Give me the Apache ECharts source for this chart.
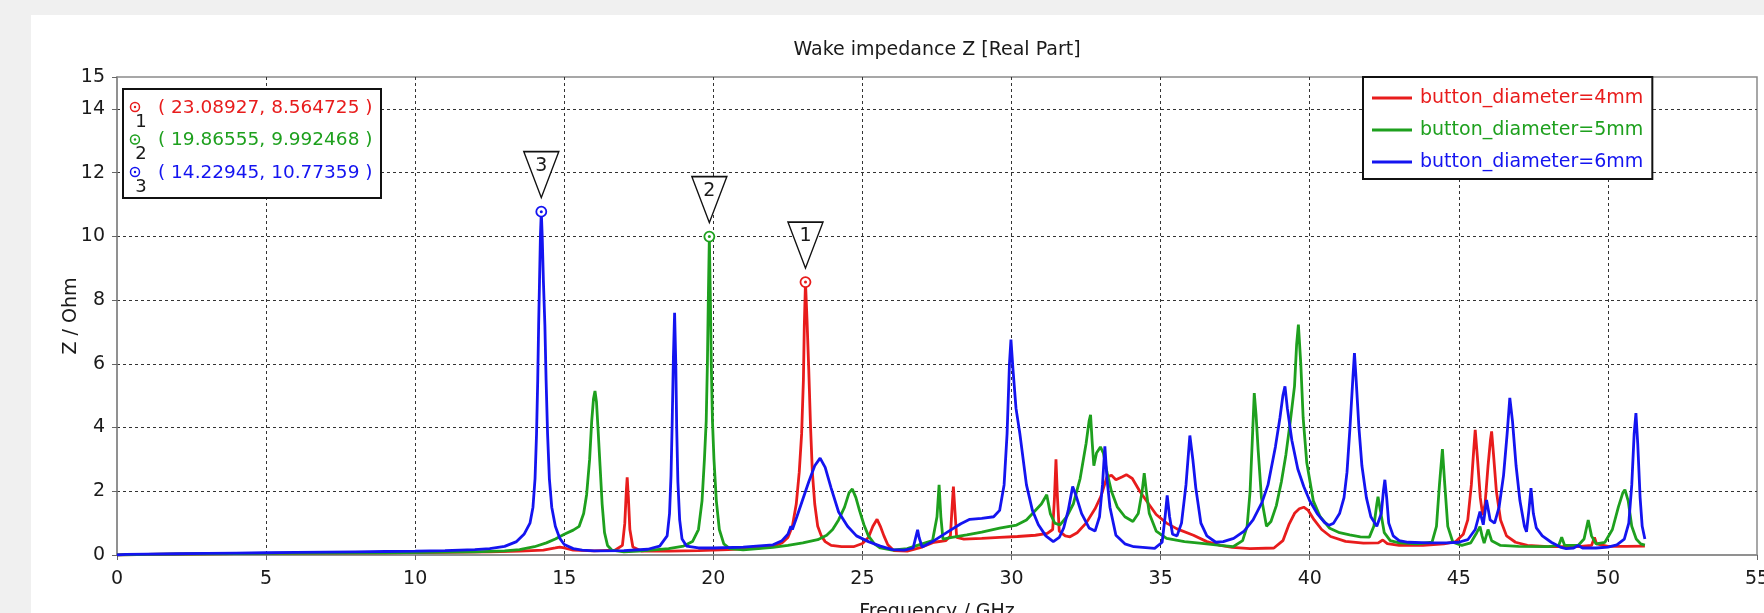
<!DOCTYPE html>
<html>
<head>
<meta charset="utf-8">
<script src="https://cdn.jsdelivr.net/npm/echarts@6/dist/echarts.min.js"></script>
<style>
  html, body { margin: 0; padding: 0; background: #f0f0f0; }
  #panel { position: absolute; left: 31px; top: 15px; right: 0; bottom: 0; background: #ffffff; }
  #chart { position: absolute; left: 0; top: 0; width: 1764px; height: 613px; }
</style>
</head>
<body>
<div id="panel"></div>
<div id="chart"></div>
<script>
// ---------- data ----------
const chartTitle = 'Wake impedance Z [Real Part]';
const xAxisName = 'Frequency / GHz';
const yAxisName = 'Z / Ohm';
const seriesNames = ['button_diameter=4mm', 'button_diameter=5mm', 'button_diameter=6mm'];
const seriesColors = ['#e81c1c', '#1ea01e', '#1414f0'];

const xTicks = [0, 5, 10, 15, 20, 25, 30, 35, 40, 45, 50, 55];
const yTicks = [0, 2, 4, 6, 8, 10, 12, 14, 15];

// markers: index, frequency (GHz), Z (Ohm), series index
const markerIds = ['1', '2', '3'];
const markerFreq = [23.08927, 19.86555, 14.22945];
const markerZ = [8.564725, 9.992468, 10.77359];
const markerSeries = [0, 1, 2];

// button_diameter=4mm  [GHz, Ohm]
const red4mm = [[0,0.0],[1,0.02],[3,0.04],[5,0.05],[7,0.06],[9,0.07],[11,0.08],[12.5,0.1],[13.5,0.12],[14.3,0.15],[14.7,0.22],[14.85,0.25],[15.0,0.22],[15.3,0.15],[16,0.13],[16.7,0.15],[16.95,0.3],[17.03,1.0],[17.08,2.0],[17.11,2.44],[17.15,1.8],[17.2,0.8],[17.3,0.25],[17.6,0.12],[18.5,0.12],[19.5,0.14],[20.5,0.17],[21.5,0.22],[22.0,0.28],[22.3,0.38],[22.5,0.55],[22.65,0.9],[22.78,1.6],[22.88,2.6],[22.96,3.8],[23.02,5.5],[23.05,7.2],[23.08927,8.564725],[23.14,7.4],[23.2,5.8],[23.26,4.0],[23.32,2.6],[23.4,1.6],[23.5,0.9],[23.62,0.6],[23.75,0.42],[23.95,0.3],[24.3,0.26],[24.7,0.26],[25.0,0.36],[25.2,0.55],[25.35,0.9],[25.49,1.12],[25.6,0.9],[25.72,0.6],[25.85,0.32],[26.05,0.14],[26.5,0.12],[27.0,0.25],[27.4,0.4],[27.8,0.45],[27.95,0.6],[28.0,1.4],[28.05,2.15],[28.1,1.4],[28.16,0.55],[28.4,0.5],[29.0,0.52],[29.6,0.55],[30.2,0.58],[30.8,0.62],[31.2,0.68],[31.38,0.8],[31.44,1.8],[31.49,3.0],[31.54,1.8],[31.6,0.75],[31.8,0.6],[31.96,0.57],[32.2,0.7],[32.5,1.0],[32.8,1.45],[33.0,1.85],[33.2,2.45],[33.35,2.5],[33.5,2.36],[33.7,2.45],[33.85,2.52],[34.05,2.4],[34.3,2.0],[34.6,1.6],[34.85,1.27],[35.2,1.0],[35.55,0.82],[36.1,0.62],[36.55,0.42],[37.0,0.3],[37.4,0.24],[38.0,0.2],[38.8,0.22],[39.1,0.45],[39.3,0.95],[39.5,1.32],[39.65,1.45],[39.8,1.5],[39.95,1.4],[40.15,1.1],[40.4,0.8],[40.7,0.58],[41.2,0.43],[41.8,0.37],[42.3,0.38],[42.45,0.47],[42.6,0.36],[43.0,0.3],[43.8,0.3],[44.5,0.35],[44.9,0.42],[45.15,0.65],[45.3,1.1],[45.42,2.2],[45.5,3.3],[45.55,3.93],[45.62,3.1],[45.72,1.8],[45.8,1.25],[45.88,1.6],[45.98,2.8],[46.06,3.6],[46.1,3.88],[46.16,3.2],[46.26,2.0],[46.4,1.1],[46.6,0.6],[46.9,0.4],[47.3,0.3],[48.0,0.26],[49.0,0.26],[49.45,0.3],[49.55,0.55],[49.62,0.35],[50.0,0.27],[50.6,0.27],[51.24,0.28]];

// button_diameter=5mm
const green5mm = [[0,0.0],[1,0.02],[3,0.04],[5,0.05],[7,0.06],[9,0.07],[11,0.09],[12,0.1],[13,0.13],[13.5,0.17],[14.0,0.26],[14.4,0.38],[14.7,0.5],[15.0,0.65],[15.3,0.78],[15.5,0.9],[15.65,1.3],[15.75,1.9],[15.85,3.0],[15.92,4.2],[15.98,4.9],[16.03,5.15],[16.08,4.8],[16.13,4.0],[16.2,2.8],[16.27,1.6],[16.35,0.7],[16.45,0.3],[16.6,0.15],[17,0.1],[17.5,0.12],[18,0.16],[18.5,0.2],[19.0,0.28],[19.3,0.42],[19.5,0.8],[19.62,1.7],[19.7,3.0],[19.76,4.2],[19.8,6.0],[19.83,8.0],[19.86555,9.992468],[19.9,8.0],[19.93,6.0],[19.97,4.2],[20.02,3.0],[20.1,1.7],[20.2,0.8],[20.35,0.35],[20.55,0.2],[21.0,0.16],[21.5,0.2],[22.0,0.24],[22.5,0.3],[23.0,0.38],[23.5,0.48],[23.8,0.62],[24.0,0.8],[24.2,1.1],[24.4,1.5],[24.55,1.95],[24.66,2.07],[24.78,1.8],[24.9,1.4],[25.05,0.95],[25.2,0.6],[25.4,0.35],[25.6,0.22],[26.0,0.15],[26.5,0.2],[27.0,0.35],[27.35,0.45],[27.5,1.2],[27.57,2.2],[27.63,1.2],[27.7,0.5],[28.0,0.55],[28.5,0.63],[29.0,0.72],[29.6,0.84],[30.17,0.94],[30.5,1.1],[30.75,1.35],[31.0,1.6],[31.18,1.89],[31.3,1.3],[31.45,1.0],[31.62,0.94],[31.85,1.2],[32.07,1.6],[32.3,2.4],[32.5,3.5],[32.6,4.2],[32.65,4.4],[32.7,3.6],[32.76,2.8],[32.85,3.2],[32.98,3.39],[33.08,3.2],[33.2,2.6],[33.35,2.0],[33.55,1.5],[33.8,1.2],[34.07,1.05],[34.25,1.3],[34.38,2.0],[34.45,2.57],[34.52,2.0],[34.62,1.3],[34.85,0.75],[35.2,0.52],[35.8,0.42],[36.3,0.37],[37.0,0.3],[37.43,0.26],[37.75,0.45],[37.9,0.9],[38.0,2.0],[38.07,3.5],[38.14,5.08],[38.2,4.4],[38.27,3.3],[38.38,1.8],[38.55,0.9],[38.7,1.05],[38.88,1.55],[39.05,2.3],[39.2,3.14],[39.35,4.2],[39.49,5.3],[39.56,6.6],[39.62,7.23],[39.7,6.0],[39.78,4.3],[39.9,2.9],[40.12,1.7],[40.35,1.2],[40.67,0.84],[41.0,0.7],[41.34,0.63],[41.7,0.57],[42.0,0.56],[42.15,0.9],[42.25,1.6],[42.29,1.83],[42.37,1.4],[42.5,0.7],[42.7,0.45],[43.0,0.38],[43.6,0.35],[44.1,0.4],[44.25,0.9],[44.35,2.2],[44.45,3.32],[44.53,2.2],[44.63,0.9],[44.8,0.4],[45.1,0.3],[45.4,0.38],[45.6,0.7],[45.71,0.89],[45.78,0.6],[45.85,0.37],[45.92,0.6],[45.98,0.8],[46.1,0.45],[46.4,0.3],[47.0,0.27],[48.0,0.26],[48.35,0.3],[48.45,0.56],[48.55,0.3],[49.0,0.3],[49.2,0.5],[49.34,1.1],[49.45,0.6],[49.6,0.35],[49.9,0.4],[50.15,0.8],[50.35,1.5],[50.5,1.95],[50.57,2.05],[50.68,1.7],[50.8,0.9],[50.95,0.5],[51.1,0.35],[51.24,0.31]];

// button_diameter=6mm
const blue6mm = [[0,0.0],[0.3,0.02],[1,0.03],[2,0.04],[3,0.05],[4,0.06],[5,0.07],[6,0.08],[7,0.09],[8,0.1],[9,0.11],[10,0.12],[11,0.14],[12,0.17],[12.5,0.2],[13,0.27],[13.4,0.42],[13.65,0.65],[13.85,1.0],[13.95,1.5],[14.02,2.4],[14.07,3.8],[14.11,5.5],[14.14,7.2],[14.17,8.6],[14.2,10.0],[14.22945,10.77359],[14.26,10.0],[14.3,8.6],[14.35,7.2],[14.39,5.5],[14.44,3.8],[14.5,2.4],[14.58,1.5],[14.7,0.9],[14.85,0.52],[15.0,0.33],[15.3,0.2],[15.6,0.15],[16,0.13],[17,0.14],[17.8,0.18],[18.2,0.28],[18.45,0.6],[18.53,1.3],[18.58,2.5],[18.62,4.2],[18.66,6.2],[18.7,7.6],[18.74,6.0],[18.77,4.0],[18.81,2.3],[18.87,1.1],[18.95,0.5],[19.1,0.28],[19.5,0.22],[20,0.22],[21,0.25],[22,0.32],[22.3,0.45],[22.5,0.65],[22.6,0.9],[22.65,0.8],[22.8,1.2],[23.0,1.75],[23.2,2.3],[23.4,2.8],[23.58,3.04],[23.75,2.75],[23.95,2.1],[24.2,1.35],[24.5,0.9],[24.8,0.6],[25.2,0.42],[25.6,0.28],[26.0,0.17],[26.4,0.15],[26.7,0.22],[26.8,0.6],[26.85,0.79],[26.9,0.55],[27.0,0.25],[27.4,0.45],[27.9,0.75],[28.3,0.98],[28.6,1.12],[29.0,1.15],[29.4,1.2],[29.6,1.4],[29.75,2.2],[29.85,3.8],[29.93,6.0],[29.98,6.76],[30.05,5.8],[30.15,4.6],[30.28,3.8],[30.5,2.2],[30.7,1.4],[30.9,0.95],[31.15,0.6],[31.4,0.42],[31.6,0.55],[31.75,0.85],[31.9,1.4],[32.05,2.15],[32.15,1.9],[32.35,1.3],[32.6,0.85],[32.8,0.75],[32.95,1.2],[33.05,2.2],[33.13,3.41],[33.2,2.4],[33.3,1.5],[33.5,0.62],[33.8,0.35],[34.1,0.26],[34.8,0.21],[35.05,0.4],[35.15,1.2],[35.22,1.87],[35.3,1.2],[35.4,0.65],[35.55,0.6],[35.7,1.0],[35.85,2.2],[35.98,3.75],[36.08,3.0],[36.18,2.1],[36.35,1.0],[36.55,0.6],[36.85,0.4],[37.1,0.42],[37.45,0.52],[37.8,0.75],[38.1,1.1],[38.4,1.65],[38.6,2.2],[38.85,3.4],[39.0,4.3],[39.1,5.0],[39.17,5.29],[39.25,4.6],[39.4,3.6],[39.6,2.7],[39.8,2.15],[40.0,1.7],[40.25,1.3],[40.5,1.02],[40.65,0.93],[40.8,1.0],[41.0,1.3],[41.15,1.8],[41.25,2.6],[41.35,4.0],[41.45,5.6],[41.5,6.34],[41.55,5.6],[41.65,4.0],[41.75,2.8],[41.9,1.8],[42.05,1.2],[42.25,0.9],[42.4,1.3],[42.47,2.0],[42.52,2.36],[42.58,1.8],[42.65,1.0],[42.8,0.6],[43.0,0.45],[43.3,0.4],[44,0.38],[44.6,0.38],[45.0,0.4],[45.3,0.48],[45.55,0.8],[45.71,1.36],[45.82,0.95],[45.93,1.73],[46.05,1.1],[46.2,1.0],[46.35,1.5],[46.5,2.5],[46.62,3.8],[46.71,4.93],[46.8,4.2],[46.92,2.8],[47.05,1.7],[47.2,0.9],[47.27,0.73],[47.35,1.4],[47.42,2.1],[47.5,1.3],[47.6,0.85],[47.8,0.6],[48.1,0.4],[48.4,0.25],[48.6,0.2],[48.85,0.22],[49.0,0.3],[49.15,0.22],[49.6,0.22],[50.0,0.25],[50.3,0.32],[50.55,0.5],[50.7,1.0],[50.8,2.2],[50.88,3.8],[50.94,4.45],[51.0,3.5],[51.08,1.8],[51.15,0.9],[51.24,0.5]];

const seriesData = [red4mm, green5mm, blue6mm];

// ---------- chart ----------
const FONT = '"DejaVu Sans", Verdana, sans-serif';
const TXT = '#1a1a1a';
const chart = echarts.init(document.getElementById('chart'), null, { renderer: 'canvas', width: 1764, height: 613 });

const GRID = { left: 117, top: 77, right: 7, bottom: 58 };

function markPointsFor(si) {
  const data = [];
  markerIds.forEach((id, k) => {
    if (markerSeries[k] !== si) return;
    const c = [markerFreq[k], markerZ[k]];
    data.push({
      coord: c,
      symbol: 'path://M0,0 L35,0 L17.5,46 Z',
      symbolSize: [35, 46],
      symbolOffset: [0, -37],
      itemStyle: { color: '#ffffff', borderColor: '#111111', borderWidth: 1.5 },
      label: { show: true, formatter: id, position: 'inside', offset: [0, -9],
               color: TXT, fontFamily: FONT, fontSize: 19 }
    });
    data.push({
      coord: c, symbol: 'circle', symbolSize: 10,
      itemStyle: { color: '#ffffff', borderColor: seriesColors[si], borderWidth: 1.8 },
      label: { show: false }
    });
    data.push({
      coord: c, symbol: 'circle', symbolSize: 3,
      itemStyle: { color: seriesColors[si] },
      label: { show: false }
    });
  });
  return { silent: true, animation: false, data };
}

const series = seriesData.map((d, i) => ({
  name: seriesNames[i],
  type: 'line',
  data: d,
  showSymbol: false,
  symbol: 'none',
  smooth: false,
  clip: true,
  color: seriesColors[i],
  lineStyle: { width: 2.8, color: seriesColors[i] },
  z: 2 + i,
  markPoint: markPointsFor(i)
}));

// marker read-out box (top-left)
const boxX = 123, boxY = 89, rowH = 32.5;
const ZB = 100;
const boxChildren = [{
  type: 'rect', z: ZB, shape: { x: 0, y: 0, width: 258, height: 109 },
  style: { fill: '#ffffff', stroke: '#111111', lineWidth: 2 }
}];
markerIds.forEach((id, k) => {
  const col = seriesColors[markerSeries[k]];
  const cy = 19 + rowH * k;
  boxChildren.push({ type: 'circle', z: ZB + 1, shape: { cx: 12, cy: cy - 1, r: 4.5 },
    style: { fill: '#ffffff', stroke: col, lineWidth: 1.5 } });
  boxChildren.push({ type: 'circle', z: ZB + 2, shape: { cx: 12, cy: cy - 1, r: 1.2 },
    style: { fill: col } });
  boxChildren.push({ type: 'text', z: ZB + 1, x: 18, y: cy + 14,
    style: { text: id, fill: TXT, font: '18px ' + FONT, align: 'center', verticalAlign: 'middle' } });
  boxChildren.push({ type: 'text', z: ZB + 1, x: 35, y: cy,
    style: { text: '( ' + markerFreq[k] + ', ' + markerZ[k] + ' )', fill: col,
             font: '18.5px ' + FONT, align: 'left', verticalAlign: 'middle' } });
});

const option = {
  animation: false,
  backgroundColor: 'transparent',
  textStyle: { fontFamily: FONT },
  grid: { left: GRID.left, top: GRID.top, right: GRID.right, bottom: GRID.bottom,
          containLabel: false, outerBoundsMode: 'none',
          show: true, borderColor: '#8a8a8a', borderWidth: 1.5, backgroundColor: '#ffffff' },
  legend: {
    orient: 'vertical', left: 1363, top: 77,
    padding: [10, 9, 6, 9], itemGap: 10, itemWidth: 40, itemHeight: 3,
    icon: 'rect', selectedMode: false,
    borderColor: '#111111', borderWidth: 2, backgroundColor: '#ffffff',
    textStyle: { fontFamily: FONT, fontSize: 19, lineHeight: 22, padding: [0, 0, 0, 3] },
    data: seriesNames.map((n, i) => ({ name: n, textStyle: { color: seriesColors[i] } }))
  },
  xAxis: {
    type: 'value', min: xTicks[0], max: xTicks[xTicks.length - 1], interval: xTicks[1] - xTicks[0],
    name: xAxisName, nameLocation: 'middle', nameGap: 48, nameMoveOverlap: false,
    nameTextStyle: { color: TXT, fontFamily: FONT, fontSize: 19 },
    axisLine: { show: true, onZero: false, lineStyle: { color: '#8a8a8a', width: 1.5 } },
    axisTick: { show: true, length: 5, lineStyle: { color: '#666', width: 1 } },
    axisLabel: { color: TXT, fontFamily: FONT, fontSize: 19, margin: 15 },
    splitLine: { show: true, showMinLine: false, showMaxLine: false,
                 lineStyle: { color: '#333', width: 1, type: [3, 3] } }
  },
  yAxis: {
    type: 'value', min: 0, max: yTicks[yTicks.length - 1], interval: yTicks[1] - yTicks[0],
    name: yAxisName, nameLocation: 'middle', nameGap: 36, nameRotate: 90, nameMoveOverlap: false,
    nameTextStyle: { color: TXT, fontFamily: FONT, fontSize: 19 },
    axisLine: { show: true, onZero: false, lineStyle: { color: '#8a8a8a', width: 1.5 } },
    axisTick: { show: true, length: 5, lineStyle: { color: '#666', width: 1 } },
    axisLabel: { color: TXT, fontFamily: FONT, fontSize: 19, margin: 12,
                 showMaxLabel: true },
    splitLine: { show: true, showMinLine: false, showMaxLine: false,
                 lineStyle: { color: '#333', width: 1, type: [3, 3] } }
  },
  graphic: [
    { type: 'text', z: ZB, x: (GRID.left + (1764 - GRID.right)) / 2, y: 50,
      style: { text: chartTitle, fill: TXT, font: '19px ' + FONT, align: 'center', verticalAlign: 'middle' } },
    { type: 'group', x: boxX, y: boxY, z: ZB, children: boxChildren }
  ],
  series
};
chart.setOption(option);
</script>
</body>
</html>
